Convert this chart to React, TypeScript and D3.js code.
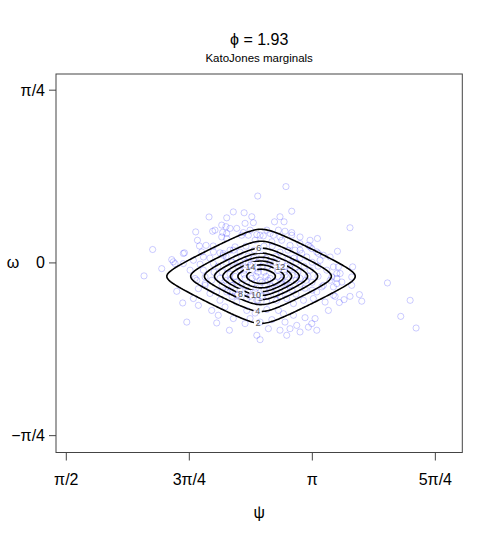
import React from 'react';
import * as d3 from 'd3';

// ---- data ----
const PSI_DOMAIN: [number, number] = [1.505, 4.099];
const OMEGA_DOMAIN: [number, number] = [-0.862, 0.859];
const X_TICKS = [Math.PI / 2, (3 * Math.PI) / 4, Math.PI, (5 * Math.PI) / 4];
const X_TICK_LABELS = ['π/2', '3π/4', 'π', '5π/4'];
const Y_TICKS = [-Math.PI / 4, 0, Math.PI / 4];
const Y_TICK_LABELS = ['−π/4', '0', 'π/4'];
const TITLE = 'ϕ = 1.93';
const SUBTITLE = 'KatoJones marginals';
const X_LABEL = 'ψ';
const Y_LABEL = 'ω';

const CONTOUR_LEVELS = [2, 4, 6, 8, 10, 12, 14, 16];
const LABELED_LEVELS = [2, 4, 6, 8, 10, 12, 14];
// direction (screen) from the density centre where each level's label sits
const LABEL_DIRECTIONS: [number, number][] = [
  [-3, 47], [-3, 31], [-2, -25], [-19, 16], [-4, 15], [16, -8], [-9, -8],
];

// estimated density model parameters
const DENSITY_CENTER: [number, number] = [2.814, -0.061];
const DENSITY_SCALE: [number, number] = [0.215, 0.0764];
const DENSITY_PEAK = 17.5;
const DENSITY_NU = 2;
const DENSITY_EPS = 0.4;

// sampled (psi, omega) points
const SAMPLES: [number, number][] = [
  [2.482, 0.209], [2.595, 0.205], [2.637, 0.232], [2.397, 0.141], [2.505, 0.144], [2.569, 0.139], [2.590, 0.165], [2.616, 0.157], [2.659, 0.157], [2.408, 0.103], [2.421, 0.077], [2.463, 0.080], [2.509, 0.077], [2.122, 0.061], [2.325, 0.046], [2.244, 0.015], [2.436, 0.050], [2.552, 0.046], [2.573, 0.035], [2.616, 0.058], [2.648, 0.073], [2.595, 0.111], [2.563, 0.118],
  [2.973, 0.347], [2.793, 0.304], [3.010, 0.235], [2.706, 0.228], [2.755, 0.210], [2.935, 0.210], [2.961, 0.187], [2.900, 0.187], [2.765, 0.183], [2.712, 0.180], [2.851, 0.149], [2.925, 0.149], [2.967, 0.144], [3.010, 0.138], [3.063, 0.118], [3.127, 0.103], [3.174, 0.111], [3.116, 0.080], [3.138, 0.065], [2.999, 0.080], [2.946, 0.103], [2.893, 0.126], [2.701, 0.138], [2.733, 0.126], [2.787, 0.129], [2.829, 0.123], [2.776, 0.103], [2.883, 0.096], [3.031, 0.058], [3.074, 0.043], [3.180, 0.043], [3.302, 0.053], [3.212, 0.035],
  [3.382, 0.160],
  [2.067, -0.059], [2.180, -0.026], [2.254, 0.005], [2.318, -0.003], [2.276, -0.129], [2.314, -0.182], [2.382, -0.162], [2.414, -0.193], [2.499, -0.216], [2.541, -0.238], [2.340, -0.269], [2.531, -0.273], [2.612, -0.306], [2.637, -0.253], [2.457, -0.102], [2.488, -0.139], [2.552, -0.170], [2.584, -0.200], [2.457, -0.064], [2.499, -0.079], [2.616, -0.132], [2.659, -0.178], [2.393, -0.071], [2.414, -0.117],
  [2.723, -0.216], [2.776, -0.228], [2.851, -0.212], [2.925, -0.216], [2.957, -0.231], [3.021, -0.238], [3.095, -0.249], [3.159, -0.253], [3.244, -0.216], [3.223, -0.178], [3.276, -0.147], [3.298, -0.094], [3.255, -0.079], [3.298, -0.048], [3.308, -0.018], [3.202, -0.109], [2.744, -0.253], [2.808, -0.269], [2.883, -0.258], [2.967, -0.269], [2.999, -0.299], [3.042, -0.284], [3.116, -0.292], [3.138, -0.276], [2.935, -0.306], [2.861, -0.299], [2.787, -0.329], [2.808, -0.349], [2.712, -0.276], [2.978, -0.329], [3.063, -0.314], [3.170, -0.306],
  [3.399, -0.018], [3.266, -0.064], [3.298, -0.071], [3.330, -0.087], [3.393, -0.064], [3.393, -0.102], [3.621, -0.091], [3.442, -0.144], [3.457, -0.174], [3.382, -0.152], [3.344, -0.167], [3.314, -0.180], [3.287, -0.152], [3.766, -0.170], [3.706, -0.243], [3.804, -0.296],
  [2.563, 0.172], [2.520, 0.149], [2.595, 0.134], [2.691, 0.126], [2.744, 0.149], [2.808, 0.126], [2.872, 0.134], [2.935, 0.118], [3.010, 0.126], [3.063, 0.088], [3.127, 0.073], [3.170, 0.050], [3.106, 0.027], [3.191, 0.012], [3.255, 0.027], [3.276, -0.018], [3.234, -0.033], [3.319, -0.048], [3.276, -0.109], [3.212, -0.102], [3.170, -0.132], [3.148, -0.162], [3.085, -0.170], [3.021, -0.185], [2.978, -0.162], [2.914, -0.170], [2.851, -0.178], [2.787, -0.170], [2.723, -0.162], [2.659, -0.147], [2.595, -0.132], [2.531, -0.132], [2.457, -0.094], [2.404, -0.079], [2.361, -0.033], [2.446, -0.033], [2.510, -0.003], [2.573, 0.043], [2.637, 0.058], [2.510, 0.050], [2.446, 0.027], [2.382, 0.012], [2.318, 0.043], [2.265, -0.003],
  [2.680, -0.033], [2.744, -0.011], [2.795, 0.003], [2.859, -0.015], [2.922, -0.033], [2.967, -0.056], [2.904, -0.088], [2.840, -0.102], [2.757, -0.093], [2.712, -0.070], [2.648, -0.061], [2.603, -0.024], [2.629, -0.102], [2.999, -0.102], [3.031, -0.024], [3.063, -0.070], [2.948, 0.003], [2.820, 0.035], [2.731, 0.031], [2.872, -0.124], [2.776, -0.133], [2.680, -0.124], [2.967, -0.124], [3.095, -0.115], [3.127, -0.033], [2.552, -0.070], [2.514, -0.042], [2.590, 0.003], [2.718, 0.076], [2.885, 0.076], [2.986, 0.058], [3.063, 0.022], [2.833, -0.042], [2.782, -0.061], [2.872, -0.070], [2.706, -0.033], [2.808, -0.079], [2.922, -0.061], [3.012, -0.056], [2.655, 0.022], [2.565, -0.102], [2.795, -0.170],
  [2.757, -0.033], [2.820, -0.015], [2.897, 0.003], [2.974, -0.015], [3.050, -0.042], [3.101, -0.079], [2.948, -0.097], [2.859, -0.079], [2.718, -0.106], [2.655, -0.088], [2.616, -0.051], [2.680, 0.003], [2.770, 0.058], [2.833, 0.076], [2.935, 0.049], [3.025, 0.022], [3.140, 0.003], [3.178, -0.061], [3.140, -0.124], [3.037, -0.142], [2.910, -0.142], [2.820, -0.151], [2.731, -0.133], [2.590, -0.079], [2.539, -0.015], [2.488, 0.022], [2.425, -0.006], [2.885, -0.033], [2.795, -0.042], [2.846, -0.061], [2.948, -0.079],
  [2.629, 0.003], [2.667, -0.015], [2.718, 0.003], [2.769, 0.021], [2.846, 0.021], [2.910, 0.030], [2.986, 0.021], [3.038, 0.003], [3.089, -0.015], [3.063, -0.097], [3.012, -0.124], [2.935, -0.152], [2.859, -0.152], [2.744, -0.152], [2.667, -0.143], [2.603, -0.124], [2.565, -0.042], [2.616, -0.079], [2.693, -0.097], [2.782, -0.115], [2.884, -0.106], [2.974, -0.088], [3.038, -0.079], [3.114, -0.061], [2.706, -0.051], [2.757, -0.070], [2.820, -0.088], [2.910, -0.115], [2.999, -0.024], [2.961, -0.042], [2.872, 0.003], [2.795, -0.024], [2.731, 0.003], [2.833, -0.124], [2.629, -0.152], [3.140, -0.088], [3.178, -0.015], [2.591, 0.030], [2.680, 0.049], [3.063, 0.058],
];

function density(psi: number, omega: number): number {
  const u = (psi - DENSITY_CENTER[0]) / DENSITY_SCALE[0];
  const v = (omega - DENSITY_CENTER[1]) / DENSITY_SCALE[1];
  const e = DENSITY_EPS;
  const S = Math.sqrt(u * u + e * e) - e + Math.sqrt(v * v + e * e) - e;
  const r2 = S * S + 2 * S * e;
  return DENSITY_PEAK / Math.pow(1 + r2 / (2 * DENSITY_NU), DENSITY_NU);
}

const W = 491;
const H = 545;
const M = { left: 56, right: 28.7, top: 74, bottom: 92.5 };
const FONT = "'Liberation Sans', Arial, Helvetica, sans-serif";

export default function App() {
  const x = d3.scaleLinear().domain(PSI_DOMAIN).range([M.left, W - M.right]);
  const y = d3.scaleLinear().domain(OMEGA_DOMAIN).range([H - M.bottom, M.top]);

  const nx = 300;
  const ny = 260;
  const dpsi = (PSI_DOMAIN[1] - PSI_DOMAIN[0]) / (nx - 1);
  const dom = (OMEGA_DOMAIN[1] - OMEGA_DOMAIN[0]) / (ny - 1);
  const values = new Array(nx * ny);
  for (let j = 0; j < ny; j++) {
    const om = OMEGA_DOMAIN[1] - j * dom;
    for (let i = 0; i < nx; i++) {
      values[j * nx + i] = density(PSI_DOMAIN[0] + i * dpsi, om);
    }
  }
  const contours = d3.contours().size([nx, ny]).thresholds(CONTOUR_LEVELS)(values);
  const proj = d3.geoTransform({
    point(px: number, py: number) {
      const psi = PSI_DOMAIN[0] + (px - 0.5) * dpsi;
      const om = OMEGA_DOMAIN[1] - (py - 0.5) * dom;
      (this as any).stream.point(x(psi), y(om));
    },
  });
  const path = d3.geoPath(proj);

  const cx = x(DENSITY_CENTER[0]);
  const cy = y(DENSITY_CENTER[1]);
  const labels = LABELED_LEVELS.map((lev, k) => {
    const [ddx, ddy] = LABEL_DIRECTIONS[k];
    const len = Math.hypot(ddx, ddy);
    const ux = ddx / len;
    const uy = ddy / len;
    let lo = 0;
    let hi = 250;
    for (let it = 0; it < 50; it++) {
      const mid = (lo + hi) / 2;
      const f = density(x.invert(cx + mid * ux), y.invert(cy + mid * uy));
      if (f > lev) lo = mid;
      else hi = mid;
    }
    const t = (lo + hi) / 2;
    return { text: String(lev), px: cx + t * ux, py: cy + t * uy };
  });

  return (
    <svg width={W} height={H} style={{ position: 'absolute', left: 0, top: 0, background: '#fff' }} fontFamily={FONT}>
      <defs>
        <mask id="labelMask" maskUnits="userSpaceOnUse" x={0} y={0} width={W} height={H}>
          <rect x={0} y={0} width={W} height={H} fill="#fff" />
          {labels.map((l, i) => {
            const w = 5.2 * l.text.length + 3;
            return <rect key={i} x={l.px - w / 2} y={l.py - 5} width={w} height={10} fill="#000" />;
          })}
        </mask>
      </defs>

      {/* points */}
      <g>
        {SAMPLES.map((s, i) => (
          <circle key={i} cx={x(s[0])} cy={y(s[1])} r={3.1} fill="none" stroke="rgba(0,0,255,0.2)" strokeWidth={1} />
        ))}
      </g>

      {/* contours */}
      <g mask="url(#labelMask)">
        {contours.map((c, i) => (
          <path key={i} d={path(c as any) || ''} fill="none" stroke="#000" strokeWidth={1.6} />
        ))}
      </g>
      <g fontSize={9} fill="#555" textAnchor="middle">
        {labels.map((l, i) => (
          <text key={i} x={l.px} y={l.py} dominantBaseline="central">{l.text}</text>
        ))}
      </g>

      {/* box */}
      <rect x={M.left} y={M.top} width={W - M.left - M.right} height={H - M.top - M.bottom} fill="none" stroke="#444" strokeWidth={1} />

      {/* x axis */}
      <g>
        {X_TICKS.map((t, i) => (
          <g key={i}>
            <line x1={x(t)} x2={x(t)} y1={H - M.bottom} y2={H - M.bottom + 8} stroke="#444" />
            <text x={x(t)} y={485} fontSize={16} textAnchor="middle" fill="#000">{X_TICK_LABELS[i]}</text>
          </g>
        ))}
      </g>
      {/* y axis */}
      <g>
        {Y_TICKS.map((t, i) => (
          <g key={i}>
            <line x1={M.left - 7} x2={M.left} y1={y(t)} y2={y(t)} stroke="#444" />
            <text x={45} y={y(t)} fontSize={16} textAnchor="end" dominantBaseline="central" fill="#000">{Y_TICK_LABELS[i]}</text>
          </g>
        ))}
      </g>

      <text x={(M.left + W - M.right) / 2} y={518} fontSize={16} textAnchor="middle">{X_LABEL}</text>
      <text x={13} y={y(0)} fontSize={16} textAnchor="middle" dominantBaseline="central">{Y_LABEL}</text>

      <text x={(M.left + W - M.right) / 2} y={45} fontSize={16} textAnchor="middle">{TITLE}</text>
      <text x={(M.left + W - M.right) / 2} y={62} fontSize={11.5} textAnchor="middle">{SUBTITLE}</text>
    </svg>
  );
}
